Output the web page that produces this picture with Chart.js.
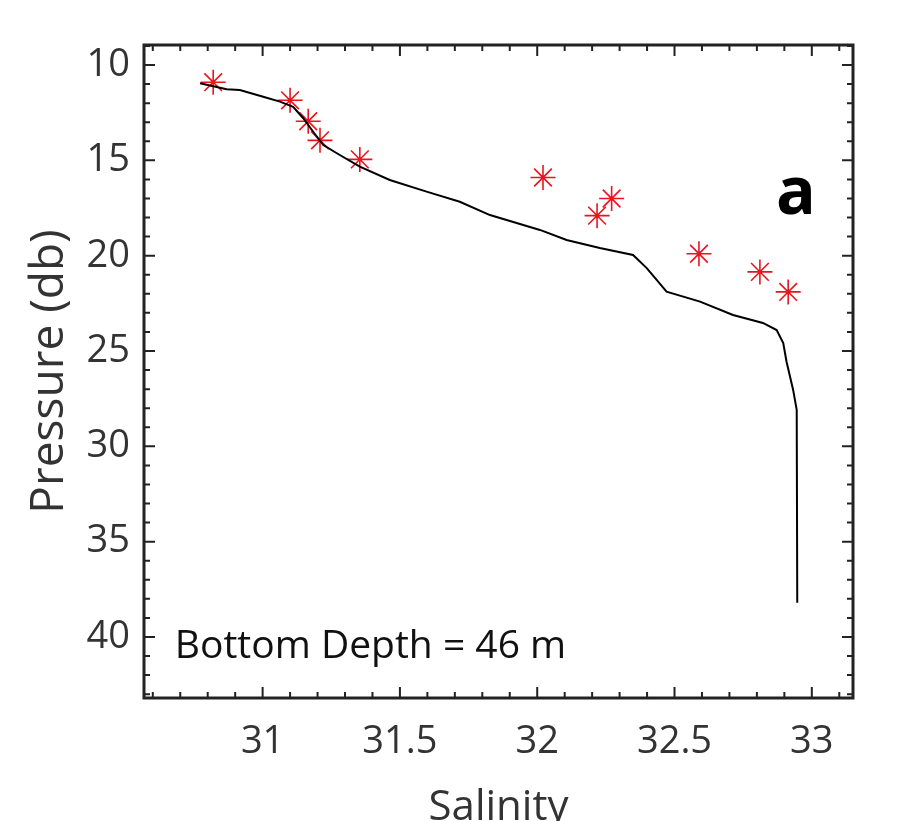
<!DOCTYPE html>
<html>
<head>
<meta charset="utf-8">
<script src="https://cdn.jsdelivr.net/npm/chart.js@4"></script>
<style>
 html, body { margin: 0; padding: 0; background: #fff; }
 #wrap { width: 905px; height: 821px; }
</style>
</head>
<body>
<div id="wrap"><canvas id="salinity-chart" width="905" height="821"></canvas></div>
<script>
// CTD profile (continuous trace)
var profileSalinity = [30.772, 30.869, 30.917, 31.002, 31.063, 31.111, 31.148, 31.184, 31.221, 31.281,
 31.354, 31.463, 31.597, 31.718, 31.828, 32.010, 32.107, 32.228, 32.349, 32.398,
 32.435, 32.471, 32.593, 32.713, 32.822, 32.872, 32.896, 32.908, 32.932, 32.945, 32.947];
var profilePressure = [10.96, 11.27, 11.31, 11.66, 11.92, 12.19, 12.79, 13.50, 14.20, 14.72,
 15.33, 16.03, 16.64, 17.17, 17.87, 18.65, 19.18, 19.60, 19.96, 20.64,
 21.27, 21.89, 22.41, 23.11, 23.53, 23.90, 24.58, 25.56, 27.04, 28.09, 38.21];

// bottle samples (red stars)
var bottleSalinity = [30.82, 31.10, 31.166, 31.209, 31.354, 32.021, 32.271, 32.218, 32.589, 32.811, 32.914];
var bottlePressure = [10.9, 11.85, 12.95, 13.95, 14.95, 15.9, 17.0, 17.9, 19.9, 20.85, 21.9];

var xTicks = [31, 31.5, 32, 32.5, 33];
var yTicks = [10, 15, 20, 25, 30, 35, 40];

var fontName = "'Open Sans', 'Noto Sans', sans-serif";

function toPoints(xs, ys) {
 return xs.map(function (x, i) {
  return { x: x, y: ys[i] };
 });
}

// frame with inward ticks on all four sides, plus the two text labels
var framePlugin = {
 id: "frame",
 afterDatasetsDraw: function (chart) {
  var ctx = chart.ctx;
  var area = chart.chartArea;
  var xs = chart.scales.x;
  var ys = chart.scales.y;
  ctx.save();
  ctx.strokeStyle = "#222";
  ctx.lineWidth = 2;
  var v, p, len;
  for (v = 30.6; v <= 33.15; v += 0.1) {
   p = xs.getPixelForValue(v);
   len = Math.abs(Math.round(v * 10) % 5) === 0 ? 11 : 6;
   ctx.beginPath();
   ctx.moveTo(p, area.bottom);
   ctx.lineTo(p, area.bottom - len);
   ctx.moveTo(p, area.top);
   ctx.lineTo(p, area.top + len);
   ctx.stroke();
  }
  for (v = 9; v <= 43; v += 1) {
   p = ys.getPixelForValue(v);
   len = v % 5 === 0 ? 11 : 6;
   ctx.beginPath();
   ctx.moveTo(area.left, p);
   ctx.lineTo(area.left + len, p);
   ctx.moveTo(area.right, p);
   ctx.lineTo(area.right - len, p);
   ctx.stroke();
  }
  ctx.lineWidth = 3;
  ctx.strokeRect(area.left, area.top, area.right - area.left, area.bottom - area.top);

  ctx.fillStyle = "#111";
  ctx.textBaseline = "alphabetic";
  ctx.textAlign = "left";
  ctx.font = "39px " + fontName;
  ctx.fillText("Bottom Depth = 46 m", xs.getPixelForValue(30.68), ys.getPixelForValue(41.1));
  ctx.fillStyle = "#000";
  ctx.font = "bold 66px " + fontName;
  ctx.fillText("a", xs.getPixelForValue(32.87), ys.getPixelForValue(17.8));
  ctx.restore();
 },
};

var ctx = document.getElementById("salinity-chart");

new Chart(ctx, {
 type: "scatter",
 data: {
  datasets: [
   {
    label: "CTD",
    data: toPoints(profileSalinity, profilePressure),
    showLine: true,
    borderColor: "#000",
    borderWidth: 2,
    pointRadius: 0,
    tension: 0,
   },
   {
    label: "Bottle",
    data: toPoints(bottleSalinity, bottlePressure),
    showLine: false,
    pointStyle: "star",
    pointRadius: 12.5,
    borderColor: "#e8141e",
    backgroundColor: "#e8141e",
    borderWidth: 1.6,
   },
  ],
 },
 options: {
  responsive: false,
  animation: false,
  layout: {
   padding: { top: 45, right: 52, left: 0, bottom: 0 },
  },
  plugins: {
   legend: { display: false },
   tooltip: { enabled: false },
  },
  scales: {
   x: {
    type: "linear",
    min: 30.568,
    max: 33.15,
    afterBuildTicks: function (scale) {
     scale.ticks = xTicks.map(function (v) { return { value: v }; });
    },
    afterFit: function (scale) {
     scale.height = 123;
    },
    grid: { display: false, drawTicks: false },
    border: { display: false },
    ticks: {
     padding: 21,
     color: "#333",
     font: { family: fontName, size: 38 },
     callback: function (value) { return String(value); },
    },
    title: {
     display: true,
     text: "Salinity",
     color: "#333",
     font: { family: fontName, size: 42, lineHeight: 0.6 },
     padding: 0,
    },
   },
   y: {
    type: "linear",
    reverse: true,
    min: 8.95,
    max: 43.2,
    afterBuildTicks: function (scale) {
     scale.ticks = yTicks.map(function (v) { return { value: v }; });
    },
    afterFit: function (scale) {
     scale.width = 144;
    },
    grid: { display: false, drawTicks: false },
    border: { display: false },
    ticks: {
     padding: 14,
     color: "#333",
     font: { family: fontName, size: 38 },
     callback: function (value) { return String(value); },
    },
    title: {
     display: true,
     text: "Pressure (db)",
     color: "#333",
     font: { family: fontName, size: 46 },
     padding: { top: 22, bottom: 0 },
    },
   },
  },
 },
 plugins: [framePlugin],
});
</script>
</body>
</html>
